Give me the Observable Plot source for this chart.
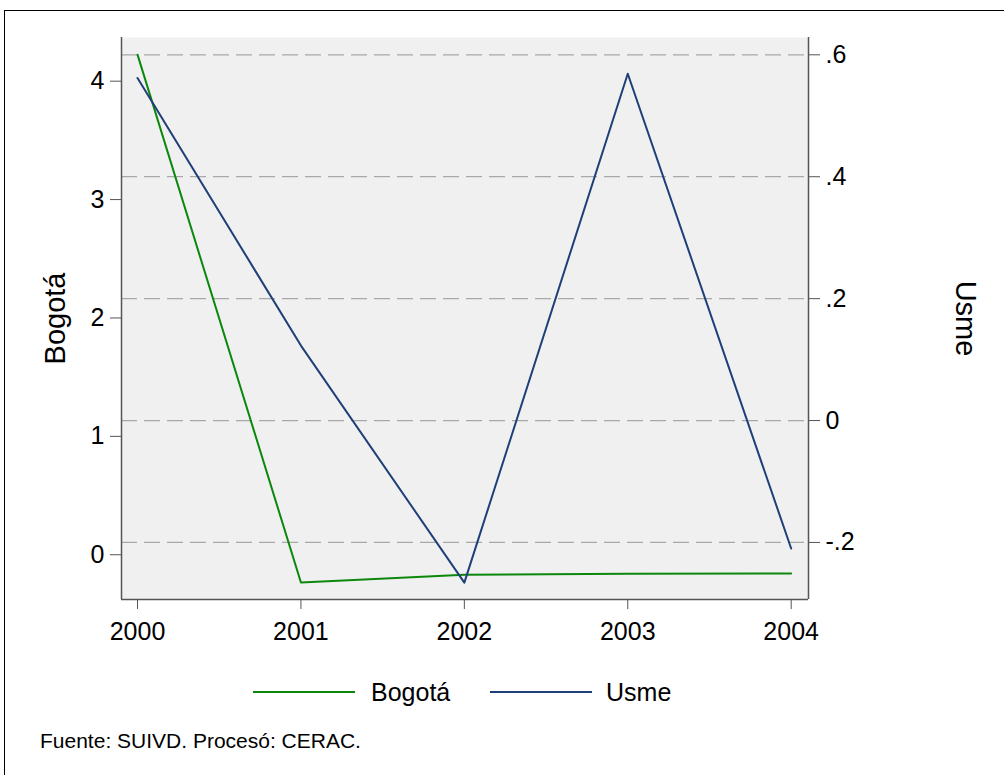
<!DOCTYPE html>
<html>
<head>
<meta charset="utf-8">
<script src="https://cdn.jsdelivr.net/npm/d3@7"></script>
<script src="https://cdn.jsdelivr.net/npm/@observablehq/plot@0.6"></script>
<style>
  html, body { margin: 0; padding: 0; background: #fff; }
  body { width: 1004px; height: 775px; position: relative; overflow: hidden;
         font-family: "Liberation Sans", Arial, sans-serif; }
  #border { position: absolute; left: 4px; top: 10px; width: 1100px; height: 900px;
            border-left: 1px solid #000; border-top: 1px solid #000; }
  #chart { position: absolute; left: 0; top: 0; }
  #legend { position: absolute; top: 677px; left: 0; width: 1004px; height: 30px; font-size: 25px; color: #000; }
  .sw { position: absolute; top: 14px; height: 2px; }
  .lt { position: absolute; top: 0; line-height: 30px; }
  #caption { position: absolute; left: 40px; top: 729px; font-size: 21px; color: #000; }
</style>
</head>
<body>
<div id="border"></div>
<div id="chart"></div>
<div id="legend">
  <div class="sw" style="left:253px;width:102px;background:#0b870b"></div>
  <div class="lt" style="left:371px">Bogotá</div>
  <div class="sw" style="left:490px;width:102px;background:#1f3f78"></div>
  <div class="lt" style="left:606px">Usme</div>
</div>
<div id="caption">Fuente: SUIVD. Procesó: CERAC.</div>
<script>
// ---- data ----
const years = [2000, 2001, 2002, 2003, 2004];
const bogota = [4.224, -0.234, -0.169, -0.161, -0.158];
const usme = [0.562, 0.123, -0.266, 0.569, -0.21];
const leftTicks = [0, 1, 2, 3, 4];
const rightTicks = [-0.2, 0, 0.2, 0.4, 0.6];
const rightTickLabels = ["-.2", "0", ".2", ".4", ".6"];

// ---- scales ----
const xDomain = [1999.902, 2004.106];
const leftDomain = [-0.378, 4.369];
const rightDomain = [-0.2936, 0.6284];
const toLeft = d3.scaleLinear().domain(rightDomain).range(leftDomain);
const toRight = toLeft.invert;

const rows = [];
years.forEach((y, i) => {
  rows.push({year: y, value: bogota[i], series: "Bogotá"});
  rows.push({year: y, value: toLeft(usme[i]), series: "Usme"});
});

const font = "Liberation Sans, Arial, sans-serif";
const axisColor = "#555";

const chart = Plot.plot({
  width: 1004,
  height: 665,
  marginLeft: 121,
  marginRight: 196,
  marginTop: 37,
  marginBottom: 66,
  style: {fontFamily: font, fontSize: "25px", color: "#000", background: "transparent", overflow: "visible"},
  x: {domain: xDomain},
  y: {domain: leftDomain},
  color: {domain: ["Bogotá", "Usme"], range: ["#0b870b", "#1f3f78"]},
  marks: [
    Plot.frame({fill: "#f0f0f0", stroke: "none"}),
    Plot.ruleY(rightTicks.map(toLeft), {stroke: "#a8a8a8", strokeWidth: 1.3, strokeDasharray: "16,7"}),
    Plot.line(rows, {x: "year", y: "value", z: "series", stroke: "series", strokeWidth: 2}),
    Plot.ruleX([xDomain[0], xDomain[1]], {stroke: axisColor, strokeWidth: 1.5}),
    Plot.ruleY([leftDomain[0]], {stroke: axisColor, strokeWidth: 1.5}),
    Plot.axisX({ticks: years, tickFormat: d => String(d), tickSize: 10, tickPadding: 13,
                stroke: axisColor, label: null, fontSize: 25}),
    Plot.axisY({ticks: leftTicks, tickFormat: d => String(d), tickSize: 11, tickPadding: 6,
                stroke: axisColor, label: null, fontSize: 25}),
    Plot.axisY({anchor: "right", ticks: rightTicks.map(toLeft),
                tickFormat: d => {
                  const v = toRight(d);
                  const i = rightTicks.findIndex(t => Math.abs(t - v) < 1e-6);
                  return i >= 0 ? rightTickLabels[i] : "";
                },
                tickSize: 11, tickPadding: 6, stroke: axisColor, label: null, fontSize: 25}),
    Plot.text(["Bogotá"], {frameAnchor: "left", text: d => d, dx: -66, rotate: -90, fontSize: 29,
                           textAnchor: "middle", lineAnchor: "middle"}),
    Plot.text(["Usme"], {frameAnchor: "right", text: d => d, dx: 157, rotate: 90, fontSize: 29,
                         textAnchor: "middle", lineAnchor: "middle"})
  ]
});
document.getElementById("chart").appendChild(chart);
</script>
</body>
</html>
